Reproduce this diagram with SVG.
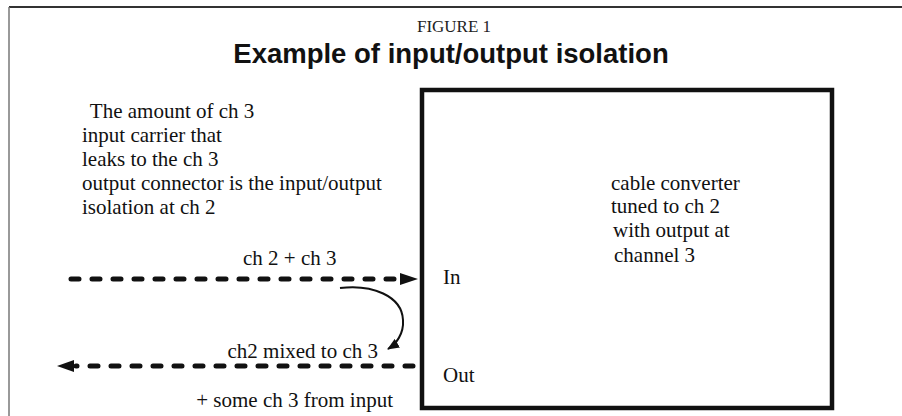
<svg xmlns="http://www.w3.org/2000/svg" width="902" height="416" viewBox="0 0 902 416">
<defs>
<style>
.serif{font-family:"Liberation Serif","Times New Roman",serif;font-size:21px;fill:#111}
.dash{fill:none;stroke:#111;stroke-width:5;stroke-linecap:round;stroke-dasharray:8 13}
.head{fill:#111}
</style>
<marker id="ah" viewBox="0 0 12 10" refX="11" refY="5" markerWidth="12" markerHeight="10" markerUnits="userSpaceOnUse" orient="auto">
<path d="M0,0 L12,5 L0,10 Z" fill="#111"/>
</marker>
</defs>
<rect width="902" height="416" fill="#fff"/>
<g id="frame">
<line x1="9" y1="7" x2="902" y2="7" stroke="#333" stroke-width="2"/>
<line x1="9" y1="7" x2="9" y2="416" stroke="#777" stroke-width="1.5"/>
</g>
<g id="titles">
<text x="454" y="32" text-anchor="middle" font-family="'Liberation Serif',serif" font-size="17" fill="#222">FIGURE 1</text>
<text x="451" y="63" text-anchor="middle" font-family="'Liberation Sans',Arial,sans-serif" font-weight="bold" font-size="27.5" fill="#111">Example of input/output isolation</text>
</g>
<g id="note">
<text class="serif" x="85" y="118" xml:space="preserve"> The amount of ch 3</text>
<text class="serif" x="82" y="142">input carrier that</text>
<text class="serif" x="82" y="166">leaks to the ch 3</text>
<text class="serif" x="82" y="190">output connector is the input/output</text>
<text class="serif" x="82" y="214">isolation at ch 2</text>
</g>
<g id="converter">
<rect x="422" y="90" width="410" height="318" fill="none" stroke="#111" stroke-width="4.5"/>
<text class="serif" x="611" y="190">cable converter</text>
<text class="serif" x="611" y="213">tuned to ch 2</text>
<text class="serif" x="613" y="237">with output at</text>
<text class="serif" x="614" y="262">channel 3</text>
<text class="serif" x="443" y="284">In</text>
<text class="serif" x="443" y="382">Out</text>
</g>
<g id="connectors">
<line class="dash" x1="71" y1="279" x2="398" y2="279"/>
<path class="head" d="M418,279 L400,273 L400,285 Z"/>
<line class="dash" x1="413" y1="366" x2="76" y2="366"/>
<path class="head" d="M57,366 L74,360 L74,372 Z"/>
<path d="M340,288 C372,284 402,296 403,320 C404,334 396,344 388,349" fill="none" stroke="#111" stroke-width="2" marker-end="url(#ah)"/>
</g>
<g id="labels">
<text class="serif" x="243" y="265">ch 2 + ch 3</text>
<text class="serif" x="378" y="358" text-anchor="end">ch2 mixed to ch 3</text>
<text class="serif" x="393" y="407" text-anchor="end">+ some ch 3 from input</text>
</g>
</svg>
